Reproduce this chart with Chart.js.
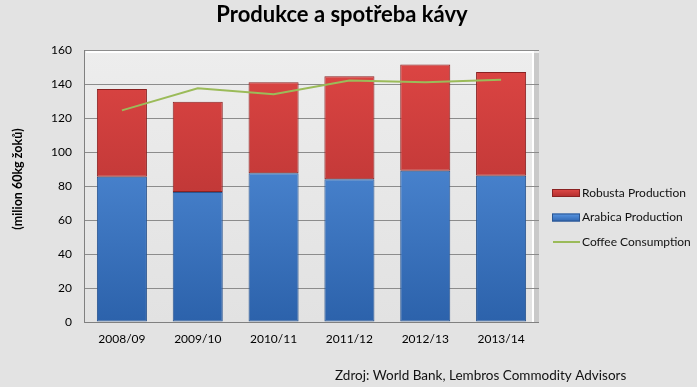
<!DOCTYPE html>
<html>
<head>
<meta charset="utf-8">
<script src="https://cdn.jsdelivr.net/npm/chart.js@4"></script>
<style>
  html, body { margin: 0; padding: 0; background: #e3e3e3; }
  #wrap { width: 697px; height: 387px; position: relative; }
</style>
</head>
<body>
<div id="wrap"><canvas id="chart" width="697" height="387"></canvas></div>
<script>
// Data
const seasons = ['2008/09', '2009/10', '2010/11', '2011/12', '2012/13', '2013/14'];
const arabica = [85.5, 76.5, 87.5, 84, 89, 86];
const robusta = [51.5, 53, 53.5, 60.5, 62.5, 61];
const consumption = [124.5, 137.5, 134, 142, 141, 142.5];
const yTicks = [0, 20, 40, 60, 80, 100, 120, 140, 160];

const FONT = "Lato, 'Open Sans', sans-serif";

function gradient(chart, top, bottom) {
  const { ctx, chartArea } = chart;
  if (!chartArea) return top;
  const g = ctx.createLinearGradient(0, chartArea.top, 0, chartArea.bottom);
  g.addColorStop(0, top);
  g.addColorStop(1, bottom);
  return g;
}

// plot wall, titles, legend and source note
const decor = {
  id: 'decor',
  beforeDraw(chart) {
    const { ctx, chartArea: a } = chart;
    ctx.save();
    const g = ctx.createLinearGradient(0, a.top, 0, a.bottom);
    g.addColorStop(0, '#ededed');
    g.addColorStop(1, '#e2e2e2');
    ctx.fillStyle = g;
    ctx.fillRect(a.left, a.top, a.right - a.left, a.bottom - a.top);
    ctx.strokeStyle = '#ffffff';
    ctx.lineWidth = 2;
    ctx.beginPath();
    ctx.moveTo(a.left + 2, a.top + 2);
    ctx.lineTo(a.right - 6, a.top + 2);
    ctx.lineTo(a.right - 6, a.bottom);
    ctx.stroke();
    ctx.fillStyle = '#c9c9c9';
    ctx.fillRect(a.right - 5, a.top + 3, 5, a.bottom - a.top - 3);
    ctx.restore();
  },
  afterDraw(chart) {
    const { ctx, chartArea: a } = chart;
    ctx.save();
    // axis lines
    ctx.strokeStyle = '#808080';
    ctx.lineWidth = 1;
    ctx.beginPath();
    ctx.moveTo(a.left + 0.5, a.top);
    ctx.lineTo(a.left + 0.5, a.bottom + 0.5);
    ctx.lineTo(a.right, a.bottom + 0.5);
    ctx.stroke();

    ctx.fillStyle = '#000';
    ctx.textBaseline = 'middle';
    // title
    ctx.font = 'bold 22px ' + FONT;
    ctx.textAlign = 'center';
    ctx.fillText('Produkce a spotřeba kávy', 342, 15);

    // y axis title
    ctx.save();
    ctx.translate(18, 179);
    ctx.rotate(-Math.PI / 2);
    ctx.font = 'bold 12.5px ' + FONT;
    ctx.fillText('(milion 60kg žoků)', 0, 0);
    ctx.restore();

    // legend
    const items = [
      { label: 'Robusta Production', type: 'bar', c1: '#e04a48', c2: '#b02c2c', border: '#8a2222' },
      { label: 'Arabica Production', type: 'bar', c1: '#5a97e4', c2: '#2f66b0', border: '#2a5590' },
      { label: 'Coffee Consumption', type: 'line', c1: '#9bbb59' }
    ];
    ctx.font = '12px ' + FONT;
    ctx.textAlign = 'left';
    items.forEach((it, i) => {
      const y = 193 + i * 24.5;
      if (it.type === 'bar') {
        const g = ctx.createLinearGradient(0, y - 4, 0, y + 4);
        g.addColorStop(0, it.c1);
        g.addColorStop(1, it.c2);
        ctx.fillStyle = g;
        ctx.fillRect(552, y - 4, 28, 8);
        ctx.strokeStyle = it.border;
        ctx.lineWidth = 1;
        ctx.strokeRect(552.5, y - 3.5, 27, 7);
      } else {
        ctx.strokeStyle = it.c1;
        ctx.lineWidth = 2;
        ctx.beginPath();
        ctx.moveTo(553, y);
        ctx.lineTo(580, y);
        ctx.stroke();
      }
      ctx.fillStyle = '#111';
      ctx.fillText(it.label, 582, y);
    });

    // source note
    ctx.font = '13.5px ' + FONT;
    ctx.fillText('Zdroj: World Bank, Lembros Commodity Advisors', 335, 376);
    ctx.restore();
  }
};

new Chart(document.getElementById('chart'), {
  type: 'bar',
  data: {
    labels: seasons,
    datasets: [
      {
        type: 'line',
        label: 'Coffee Consumption',
        data: consumption,
        borderColor: '#9bbb59',
        borderWidth: 2,
        pointRadius: 0,
        tension: 0,
        fill: false,
        order: 0,
      },
      {
        label: 'Arabica Production',
        data: arabica,
        backgroundColor: c => gradient(c.chart, '#5d9ae6', '#2c62ab'),
        borderColor: '#2a5590',
        borderWidth: 1,
        borderSkipped: false,
        barPercentage: 0.66,
        categoryPercentage: 1,
        stack: 'p',
        order: 1,
      },
      {
        label: 'Robusta Production',
        data: robusta,
        backgroundColor: c => gradient(c.chart, '#de4644', '#a82c2c'),
        borderColor: '#8a2222',
        borderWidth: 1,
        borderSkipped: false,
        barPercentage: 0.66,
        categoryPercentage: 1,
        stack: 'p',
        order: 1,
      },
    ],
  },
  options: {
    responsive: false,
    animation: false,
    layout: { padding: { left: 0, right: 158, top: 50, bottom: 35 } },
    plugins: {
      legend: { display: false },
      tooltip: { enabled: false },
      title: { display: false },
    },
    scales: {
      x: {
        stacked: true,
        afterFit: s => { s.height = 30; },
        grid: { display: false, drawTicks: false },
        border: { display: false },
        ticks: { color: '#000', padding: 10, font: { family: FONT, size: 12 }, maxRotation: 0 },
      },
      y: {
        stacked: true,
        min: 0,
        max: 160,
        afterFit: s => { s.width = 84; },
        afterBuildTicks: s => { s.ticks = yTicks.map(v => ({ value: v })); },
        grid: { color: '#8c8c8c', drawTicks: false, lineWidth: 1 },
        border: { display: false },
        ticks: { color: '#000', padding: 12, font: { family: FONT, size: 12 } },
      },
    },
  },
  plugins: [decor],
});
</script>
</body>
</html>
